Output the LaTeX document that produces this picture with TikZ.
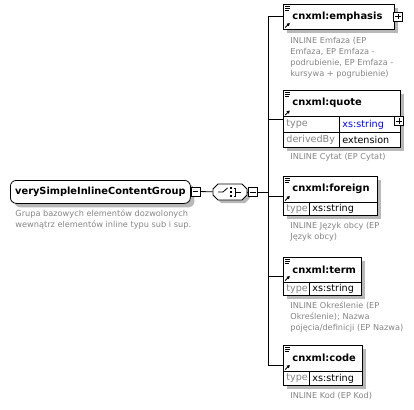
\documentclass[tikz,border=0pt]{standalone}
\usepackage{fontspec}
\setmainfont{DejaVu Sans}
\usetikzlibrary{positioning,shadows,arrows.meta}

% small marks in the title row of an element: x, top y, title bottom y
\newcommand{\elemmarks}[3]{%
  \draw[line width=0.6pt] (#1+2,#2+2.5) -- ++(5,0) (#1+2,#2+4.2) -- ++(5,0) (#1+2,#2+5.9) -- ++(3.5,0);
  \draw[line width=0.9pt,-{Triangle[length=3pt,width=3.2pt]}] (#1+2.2,#3-1.5) -- (#1+6.8,#3-6);
}
% outline of the sequence box, shifted by #1
\newcommand{\seqoutline}[1]{[shift={#1}] (213,189) -- (218,184) -- (242,184) -- (247,189) -- (247,195) -- (242,200) -- (218,200) -- (213,195) -- cycle}

\begin{document}
\begin{tikzpicture}[x=1pt,y=-1pt,line width=0.8pt,
  elem/.style={draw,fill=white,anchor=north west,inner sep=0pt,
    general shadow={fill=black!28,shadow xshift=4pt,shadow yshift=-4pt}},
  rootbox/.style={elem,rounded corners=6pt,font=\bfseries\fontsize{9.8}{11}\selectfont},
  title/.style={anchor=west,inner sep=0pt,font=\bfseries\fontsize{9.9}{11}\selectfont},
  attr/.style={anchor=west,inner sep=0pt,font=\fontsize{9.6}{10}\selectfont},
  note/.style={anchor=north west,align=left,inner sep=0pt,text=black!48,
    font=\fontsize{8.2}{11}\selectfont},
  minusbox/.style={draw,fill=white,minimum size=9pt,inner sep=0pt,
    path picture={\draw ([xshift=1.8pt]path picture bounding box.west) -- ([xshift=-1.8pt]path picture bounding box.east);}},
  plusbox/.style={draw,fill=white,minimum size=9pt,inner sep=0pt,
    path picture={\draw ([xshift=1.8pt]path picture bounding box.west) -- ([xshift=-1.8pt]path picture bounding box.east)
      ([yshift=1.8pt]path picture bounding box.south) -- ([yshift=-1.8pt]path picture bounding box.north);}}]

\useasboundingbox (0,0) rectangle (414,409);

% root group
\node[rootbox,minimum width=180pt,minimum height=23pt] (root) at (10,180) {verySimpleInlineContentGroup};
\node[minusbox] (rootminus) at (195.5,191.5) {};
\node[note] (rootnote) at (15,209.5) {Grupa bazowych elementów dozwolonych\\wewnątrz elementów inline typu sub i sup.};

% sequence
\fill[black!28] \seqoutline{(3,3)};
\draw[fill=white] \seqoutline{(0,0)};
\node[minimum width=34pt,minimum height=16pt,inner sep=0pt] (seq) at (230,192) {};
\draw (seq.center) ++(-12,0) -- ++(5,0) -- ++(4.5,-4);
\foreach \yy in {188,192,196} \fill (231,\yy) ++(-1.2,-1.2) rectangle ++(2.4,2.4);
\draw (233.5,188) -- (235.5,188) -- (235.5,196) -- (233.5,196) (235.5,192) -- (241,192);
\node[minusbox] (seqminus) at (253,192) {};
\coordinate (bus) at (268,192);

\draw (rootminus) -- (seq);
\draw (seq) -- (seqminus);
\draw (seqminus) -- (bus);

% emphasis
\node[elem,minimum width=111pt,minimum height=25pt] (emphasis) at (283,4) {};
\elemmarks{283}{4}{29}
\node[title] at (292,16.5) {cnxml:emphasis};
\node[plusbox] (emphplus) at (398,16.5) {};
\node[note] (emphnote) at (290,36.5) {INLINE Emfaza (EP\\Emfaza, EP Emfaza -\\podrubienie, EP Emfaza -\\kursywa + pogrubienie)};

% quote
\node[elem,minimum width=117pt,minimum height=57pt] (quote) at (283,90) {};
\draw (283,116.5) -- (400,116.5) (283,132) -- (400,132) (339,116.5) -- (339,147);
\elemmarks{283}{90}{116.5}
\node[title] at (292,103) {cnxml:quote};
\node[attr,text=black!48] at (286,124.5) {type};
\node[attr,text=blue] at (342,124.5) {xs:string};
\node[attr,text=black!48] at (286,140) {derivedBy};
\node[attr] at (342,140) {extension};
\node[plusbox] (quoteplus) at (399,121) {};
\node[note] (quotenote) at (290,153) {INLINE Cytat (EP Cytat)};

% foreign
\node[elem,minimum width=94pt,minimum height=39pt] (foreign) at (283,176) {};
\draw (283,202) -- (377,202) (309,202) -- (309,215);
\elemmarks{283}{176}{202}
\node[title] at (292,189) {cnxml:foreign};
\node[attr,text=black!48] at (286,209) {type};
\node[attr] at (312,209) {xs:string};
\node[note] (foreignnote) at (290,221.5) {INLINE Język obcy (EP\\Język obcy)};

% term
\node[elem,minimum width=78pt,minimum height=38pt] (term) at (283,257) {};
\draw (283,282) -- (361,282) (309,282) -- (309,295);
\elemmarks{283}{257}{282}
\node[title] at (292,269.5) {cnxml:term};
\node[attr,text=black!48] at (286,289) {type};
\node[attr] at (312,289) {xs:string};
\node[note] (termnote) at (290,301.5) {INLINE Określenie (EP\\Określenie); Nazwa\\pojęcia/definicji (EP Nazwa)};

% code
\node[elem,minimum width=79pt,minimum height=40pt] (code) at (283,345) {};
\draw (283,371) -- (362,371) (309,371) -- (309,385);
\elemmarks{283}{345}{371}
\node[title] at (292,358) {cnxml:code};
\node[attr,text=black!48] at (286,378.5) {type};
\node[attr] at (312,378.5) {xs:string};
\node[note] (codenote) at (290,391.5) {INLINE Kod (EP Kod)};

% connectors to the children
\draw (emphasis.west -| bus) -- (code.west -| bus);
\foreach \e in {emphasis,quote,foreign,term,code}
  \draw (\e.west -| bus) -- (\e.west);

\end{tikzpicture}
\end{document}
